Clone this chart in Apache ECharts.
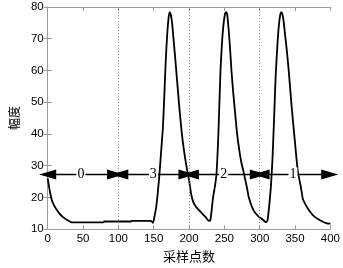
<!DOCTYPE html>
<html><head><meta charset="utf-8">
<script src="https://cdn.jsdelivr.net/npm/echarts@6/dist/echarts.min.js"></script>
<style>html,body{margin:0;padding:0;background:#fff}#c{width:343px;height:268px}</style>
</head><body><div id="c"></div>
<script>
const sampleX = [0,3,6,9,13,17,22,28,34,50,79,80,118,119,146,149,151,153.6,156,158,160,163,165,167,169,171,172.5,174,176,178,180,183,186,190,194,197,200,203,206,210,216,223,228,230,232,234,237,239,241.5,244.5,247,249,251,252.5,254,256,258,260,262.5,265,268,271,274,277.7,282,284.5,291,298,302,309,311,313.7,316,318,320,322.5,325,327,329,330.5,332,333.5,336,338,341,345,350,354,358,361,363,368,377,386,395,400];
const amplitude = [26,22,19,17.5,16,14.8,13.7,12.8,12.1,12.1,12.1,12.4,12.4,12.6,12.6,12.0,13.9,17,22,27,33,42,52,63,71,76.5,78.4,77.8,75,70,65,57,49,39.7,33,29,25.5,21,18.5,17,15.5,13.9,12.6,12.7,16,20,24,28,40,60,70,75,78,78.4,77.5,73,67,60,53,47,40,35,31,27.5,23,20,16,14,13.4,12.2,12.7,18,24,32,43,58,68,74,77.5,78.4,77.8,76,71,67,60,49,37,28,23.5,19.5,18.5,16.5,14,12.7,11.8,11.7];
const classLabels = ['0','3','2','1'];
const segStart = [0,102,202,302];
const segEnd = [96,197,298,399];
const labelX = [47,149.5,249,347];
const arrowY = 27.2;
const dividers = [100,200,300];
const xTicks = {min:0,max:400,interval:50};
const yTicks = {min:10,max:80,interval:10};

const lineData = sampleX.map((x,i)=>[x,amplitude[i]]);
const arrowLines = classLabels.map((l,i)=>[{coord:[segStart[i],arrowY]},{coord:[segEnd[i],arrowY]}]);
const divLines = dividers.map(d=>({xAxis:d}));

const axisLineStyle = {color:'#9a9a9a',width:1};
const tickStyle = {show:true,inside:true,length:4,lineStyle:{color:'#9a9a9a'}};
const labelFont = {color:'#000',fontFamily:'Liberation Sans, Arial',fontSize:11.5};

const chart = echarts.init(document.getElementById('c'),null,{renderer:'canvas'});
chart.setOption({
  animation:false,
  grid:{left:36.5,right:11,top:7,bottom:30},
  xAxis:[
    {type:'value',min:xTicks.min,max:xTicks.max,interval:xTicks.interval,position:'bottom',
     axisLine:{show:true,lineStyle:axisLineStyle},axisTick:tickStyle,splitLine:{show:false},
     axisLabel:Object.assign({margin:4},labelFont),
     name:'采样点数',nameLocation:'middle',nameGap:17,
     nameTextStyle:{color:'#000',fontSize:13,fontFamily:'Noto Sans CJK SC'}},
    {type:'value',min:xTicks.min,max:xTicks.max,interval:xTicks.interval,position:'top',
     axisLine:{show:true,lineStyle:axisLineStyle},axisTick:tickStyle,splitLine:{show:false},axisLabel:{show:false}}
  ],
  yAxis:[
    {type:'value',min:yTicks.min,max:yTicks.max,interval:yTicks.interval,position:'left',
     axisLine:{show:true,lineStyle:axisLineStyle},axisTick:tickStyle,splitLine:{show:false},
     axisLabel:Object.assign({margin:4},labelFont),
     name:'幅度',nameLocation:'middle',nameGap:21,nameRotate:90,
     nameTextStyle:{color:'#000',fontSize:12,fontFamily:'Noto Sans CJK SC'}},
    {type:'value',min:yTicks.min,max:yTicks.max,interval:yTicks.interval,position:'right',
     axisLine:{show:true,lineStyle:axisLineStyle},axisTick:tickStyle,splitLine:{show:false},axisLabel:{show:false}}
  ],
  series:[
    {type:'line',data:lineData,showSymbol:false,smooth:0.2,
     lineStyle:{color:'#000',width:1.8},z:3,
     markLine:{silent:true,symbol:['none','none'],label:{show:false},
       lineStyle:{color:'#888',type:[1,2],width:1},data:divLines}},
    {type:'line',data:[],z:4,
     markLine:{silent:true,symbol:['triangle','triangle'],symbolSize:[10,17],
       label:{show:false},lineStyle:{color:'#000',type:'solid',width:1.3},
       itemStyle:{color:'#000'},data:arrowLines}}
  ]
});
const texts = classLabels.map((l,i)=>{
  const p = chart.convertToPixel({xAxisIndex:0,yAxisIndex:0},[labelX[i],arrowY]);
  return {type:'text',x:p[0],y:p[1],z:100,
    style:{text:l,fill:'#000',font:'14px "Liberation Serif", "Times New Roman", serif',
      align:'center',verticalAlign:'middle',backgroundColor:'#fff',padding:[0,1]}};
});
chart.setOption({graphic:texts});
</script></body></html>
